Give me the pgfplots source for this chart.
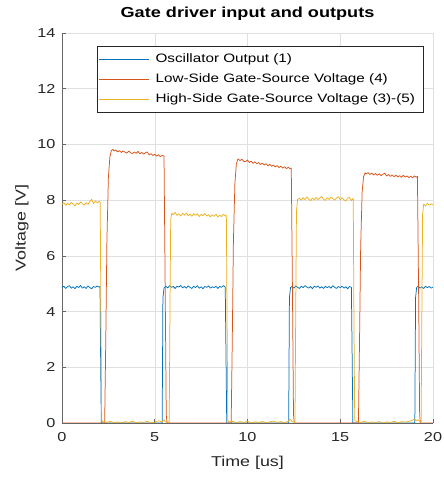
\documentclass[border=0pt]{standalone}
\usepackage{fontspec}
\setmainfont{Liberation Sans}[FakeStretch=1.25]
\usepackage{pgfplots}
\pgfplotsset{compat=1.18}

\definecolor{mblue}{rgb}{0,0.447,0.741}
\definecolor{morange}{rgb}{0.850,0.325,0.098}
\definecolor{myellow}{rgb}{0.929,0.694,0.125}
\definecolor{axgray}{rgb}{0.15,0.15,0.15}

\begin{document}
\begin{tikzpicture}
\begin{axis}[
  scale only axis,
  width=371bp, height=390bp,
  xmin=0, xmax=20, ymin=0, ymax=14,
  xtick={0,5,10,15,20}, ytick={0,2,...,14},
  axis x line=bottom, axis y line=left,
  axis line style={-, draw=black!60, line width=0.7pt},
  tick align=inside, major tick length=4bp,
  tick style={draw=black!60, line width=0.6pt},
  grid=major,
  major grid style={draw=black!12, line width=0.5pt},
  /pgf/number format/assume math mode=true,
  ticklabel style={font=\fontsize{13bp}{15bp}\selectfont, text=axgray},
  yticklabel style={xshift=-3bp},
  xticklabel style={yshift=-6bp},
  xlabel={Time [us]}, ylabel={Voltage [V]},
  label style={font=\fontsize{14.3bp}{16bp}\selectfont, text=axgray},
  xlabel style={at={(axis description cs:0.5,-0.1026)}, anchor=center},
  ylabel style={at={(axis description cs:-0.1078,0.5)}, anchor=center},
  title={\bfseries Gate driver input and outputs},
  title style={font=\fontsize{14.5bp}{17bp}\selectfont, at={(axis description cs:0.5,1)}, anchor=center, yshift=13bp},
  legend cell align=left,
  legend image code/.code={\draw[#1, line width=0.65pt] (0bp,0bp) -- (50bp,0bp);},
  legend style={
    at={(rel axis cs:0.0935,0.967)}, anchor=north west,
    draw=axgray, line width=0.5pt, fill=white,
    font=\fontsize{12.2bp}{14bp}\selectfont,
    inner xsep=2bp, inner ysep=3bp, row sep=0bp,
    nodes={inner ysep=3bp, inner xsep=6bp, text height=10.5bp, text depth=3.5bp},
  },
  every axis plot/.append style={line width=0.75pt, line join=round},
]

% oscillator output (1)
\addplot[mblue] coordinates {
(0,4.86)(0.1,4.91)(0.2,4.83)(0.3,4.90)(0.4,4.93)(0.5,4.84)(0.6,4.89)(0.7,4.82)(0.8,4.91)(0.9,4.86)
(1.0,4.94)(1.1,4.84)(1.2,4.89)(1.3,4.83)(1.4,4.92)(1.5,4.86)(1.6,4.82)(1.7,4.90)(1.8,4.87)(1.9,4.92)
(2.0,4.88)(2.05,4.90)(2.08,2.5)(2.12,0)
(5.40,0)(5.44,4.5)(5.50,4.84)
(5.6,4.91)(5.7,4.85)(5.8,4.93)(5.9,4.87)(6.0,4.90)(6.1,4.83)(6.2,4.91)(6.3,4.88)(6.4,4.94)(6.5,4.85)
(6.6,4.90)(6.7,4.84)(6.8,4.92)(6.9,4.87)(7.0,4.83)(7.1,4.91)(7.2,4.86)(7.3,4.93)(7.4,4.84)(7.5,4.89)
(7.6,4.82)(7.7,4.90)(7.8,4.87)(7.9,4.92)(8.0,4.84)(8.1,4.89)(8.2,4.86)(8.3,4.91)(8.4,4.83)(8.5,4.90)
(8.6,4.87)(8.7,4.93)(8.8,4.88)(8.84,2.5)(8.88,0)
(12.22,0)(12.26,4.5)(12.32,4.86)
(12.4,4.90)(12.5,4.84)(12.6,4.92)(12.7,4.87)(12.8,4.83)(12.9,4.91)(13.0,4.86)(13.1,4.93)(13.2,4.88)(13.3,4.84)
(13.4,4.90)(13.5,4.82)(13.6,4.91)(13.7,4.87)(13.8,4.92)(13.9,4.84)(14.0,4.89)(14.1,4.83)(14.2,4.91)(14.3,4.86)
(14.4,4.90)(14.5,4.84)(14.6,4.93)(14.7,4.87)(14.8,4.83)(14.9,4.90)(15.0,4.86)(15.1,4.91)(15.2,4.84)(15.3,4.89)
(15.4,4.82)(15.5,4.90)(15.6,4.87)(15.64,2.5)(15.68,0)
(19.02,0)(19.06,4.5)(19.12,4.87)
(19.2,4.91)(19.3,4.84)(19.4,4.89)(19.5,4.83)(19.6,4.91)(19.7,4.86)(19.8,4.90)(19.9,4.84)(20,4.88)
};
\addlegendentry{Oscillator Output (1)}

% low-side gate-source voltage (4)
\addplot[morange] coordinates {
(0,0)(2.30,0)(2.36,3.0)(2.42,6.5)(2.50,8.8)(2.58,9.55)(2.66,9.78)(2.75,9.83)
(2.8,9.76)(2.9,9.80)(3.0,9.73)(3.1,9.78)(3.2,9.71)(3.3,9.77)(3.4,9.72)(3.5,9.69)(3.6,9.76)(3.7,9.70)
(3.8,9.67)(3.9,9.73)(4.0,9.68)(4.1,9.75)(4.2,9.66)(4.3,9.71)(4.4,9.65)(4.5,9.70)(4.6,9.73)(4.7,9.62)
(4.8,9.67)(4.9,9.60)(5.0,9.65)(5.1,9.58)(5.2,9.63)(5.3,9.56)(5.4,9.61)(5.5,9.58)
(5.56,5.0)(5.62,0.3)(5.66,0)
(9.12,0)(9.18,3.0)(9.24,6.5)(9.32,8.6)(9.40,9.3)(9.48,9.48)
(9.6,9.42)(9.7,9.47)(9.8,9.39)(9.9,9.38)(10.0,9.44)(10.1,9.35)(10.2,9.40)(10.3,9.32)(10.4,9.38)(10.5,9.30)
(10.6,9.35)(10.7,9.28)(10.8,9.33)(10.9,9.26)(11.0,9.31)(11.1,9.23)(11.2,9.29)(11.3,9.21)(11.4,9.26)(11.5,9.19)
(11.6,9.24)(11.7,9.17)(11.8,9.22)(11.9,9.15)(12.0,9.20)(12.1,9.13)(12.2,9.18)(12.3,9.12)(12.36,9.15)
(12.42,5.0)(12.48,0.3)(12.52,0)
(15.98,0)(16.04,3.0)(16.10,6.3)(16.18,8.3)(16.26,8.85)(16.34,8.98)
(16.4,8.94)(16.5,8.99)(16.6,8.92)(16.7,8.97)(16.8,8.90)(16.9,8.96)(17.0,8.89)(17.1,8.95)(17.2,8.88)(17.3,8.93)
(17.4,8.97)(17.5,8.87)(17.6,8.92)(17.7,8.85)(17.8,8.91)(17.9,8.84)(18.0,8.90)(18.1,8.83)(18.2,8.88)(18.3,8.82)
(18.4,8.89)(18.5,8.83)(18.6,8.87)(18.7,8.81)(18.8,8.86)(18.9,8.80)(19.0,8.87)(19.1,8.82)(19.16,8.86)
(19.22,5.0)(19.28,0.3)(19.32,0)(20,0)
};
\addlegendentry{Low-Side Gate-Source Voltage (4)}

% high-side gate-source voltage (3)-(5)
\addplot[myellow] coordinates {
(0,7.85)(0.1,7.91)(0.2,7.81)(0.3,7.89)(0.4,7.83)(0.5,7.92)(0.6,7.86)(0.7,7.79)(0.8,7.90)(0.9,7.84)
(1.0,7.93)(1.1,7.87)(1.2,7.82)(1.3,7.91)(1.4,7.85)(1.5,7.95)(1.6,8.03)(1.7,7.87)(1.8,7.97)(1.9,7.90)
(2.0,7.96)(2.06,7.92)(2.10,3.5)(2.14,0.1)
(2.2,0.05)(2.4,0.02)(2.6,0.06)(2.8,0.01)(3.0,0.04)(3.2,0.00)(3.4,0.05)(3.6,0.02)(3.8,0.07)(4.0,0.01)
(4.2,0.04)(4.4,0.02)(4.6,0.06)(4.8,0.00)(5.0,0.03)(5.2,0.08)(5.4,0.04)(5.5,0.12)(5.6,0.03)(5.7,0.05)(5.78,0.02)
(5.82,4.0)(5.86,7.3)(5.92,7.53)
(6.0,7.47)(6.1,7.56)(6.2,7.45)(6.3,7.51)(6.4,7.43)(6.5,7.53)(6.6,7.46)(6.7,7.54)(6.8,7.44)(6.9,7.50)
(7.0,7.42)(7.1,7.52)(7.2,7.45)(7.3,7.51)(7.4,7.41)(7.5,7.49)(7.6,7.44)(7.7,7.52)(7.8,7.43)(7.9,7.48)
(8.0,7.40)(8.1,7.47)(8.2,7.42)(8.3,7.50)(8.4,7.39)(8.5,7.46)(8.6,7.41)(8.7,7.49)(8.8,7.43)(8.86,7.46)
(8.90,3.5)(8.94,0.1)
(9.0,0.04)(9.2,0.06)(9.4,0.01)(9.6,0.05)(9.8,0.02)(10.0,0.06)(10.2,0.00)(10.4,0.04)(10.6,0.02)(10.8,0.05)
(11.0,0.01)(11.2,0.04)(11.4,0.07)(11.6,0.02)(11.8,0.05)(12.0,0.01)(12.2,0.06)(12.3,0.14)(12.4,0.05)(12.5,0.03)(12.56,0.02)
(12.60,4.0)(12.64,7.6)(12.70,8.02)
(12.8,8.07)(12.9,8.00)(13.0,8.09)(13.1,8.02)(13.2,8.11)(13.3,8.04)(13.4,7.98)(13.5,8.07)(13.6,8.01)(13.7,8.10)
(13.8,8.02)(13.9,8.08)(14.0,8.13)(14.1,8.03)(14.2,7.99)(14.3,8.09)(14.4,8.02)(14.5,8.11)(14.6,8.05)(14.7,8.00)
(14.8,8.08)(14.9,8.12)(15.0,8.02)(15.1,8.09)(15.2,8.01)(15.3,7.97)(15.4,8.07)(15.5,8.10)(15.6,7.98)(15.7,8.07)
(15.74,3.5)(15.78,0.1)
(15.9,0.05)(16.1,0.02)(16.3,0.06)(16.5,0.01)(16.7,0.04)(16.9,0.02)(17.1,0.05)(17.3,0.00)(17.5,0.04)(17.7,0.02)
(17.9,0.06)(18.1,0.01)(18.3,0.05)(18.5,0.03)(18.7,0.06)(18.9,0.10)(19.0,0.15)(19.1,0.08)(19.2,0.12)(19.3,0.04)(19.36,0.03)
(19.40,4.0)(19.44,7.5)(19.50,7.86)
(19.6,7.79)(19.7,7.89)(19.8,7.82)(19.9,7.87)(20.0,7.82)
};
\addlegendentry{High-Side Gate-Source Voltage (3)-(5)}

\end{axis}
\pgfresetboundingbox
\path ([shift={(-62bp,-55bp)}]current axis.south west) rectangle ([shift={(11bp,33bp)}]current axis.north east);
\end{tikzpicture}
\end{document}
